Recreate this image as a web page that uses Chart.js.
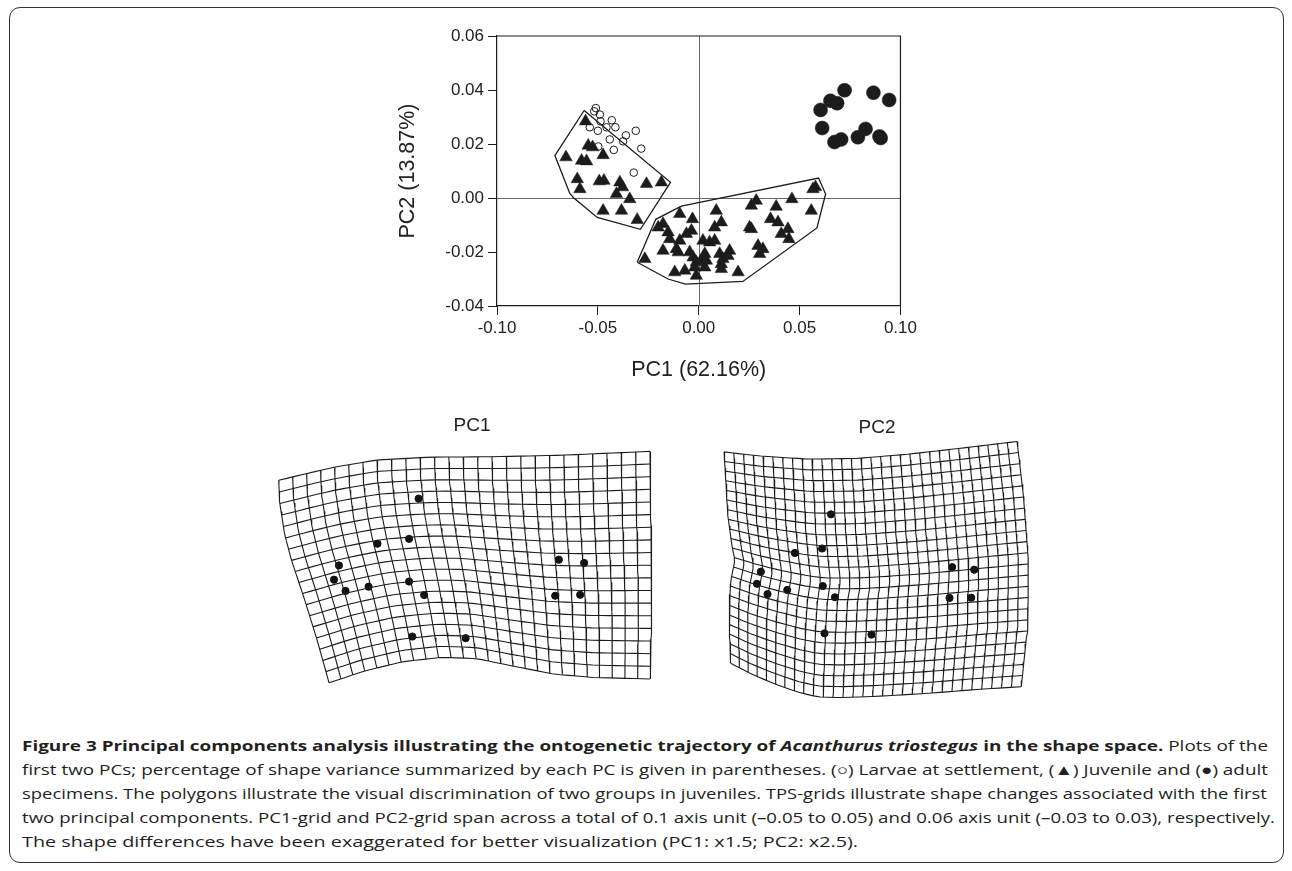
<!DOCTYPE html>
<html>
<head>
<meta charset="utf-8">
<script src="https://cdn.jsdelivr.net/npm/chart.js@4.4.1/dist/chart.umd.min.js"></script>
<style>
  html, body { margin: 0; padding: 0; background: #fff; }
  body { width: 1292px; height: 871px; position: relative; overflow: hidden; font-family: "Liberation Sans", Arial, sans-serif; }
  .frame { position: absolute; left: 9px; top: 7px; width: 1275px; height: 856px; border: 1.5px solid #333; border-radius: 11px; box-sizing: border-box; }
  #pca-wrap { position: absolute; left: 380px; top: 20px; width: 540px; height: 366px; }
  #tps-wrap { position: absolute; left: 250px; top: 430px; width: 800px; height: 280px; }
  .grid-title { position: absolute; font-size: 19px; color: #222; transform: translate(-50%, -50%); white-space: nowrap; }
  .caption { position: absolute; left: 22px; top: 733px; color: #231f20; font-family: "Open Sans", "Noto Sans", sans-serif; font-size: 15px; }
  .caption div { height: 24px; line-height: 24px; white-space: nowrap; }
  .caption span.ln { display: inline-block; transform-origin: left center; }
</style>
</head>
<body>
<div class="frame"></div>
<div id="pca-wrap"><canvas id="pca" width="540" height="366"></canvas></div>
<div id="tps-wrap"><canvas id="tps" width="800" height="280"></canvas></div>
<div class="grid-title" style="left:472px; top:425px;">PC1</div>
<div class="grid-title" style="left:877px; top:427px;">PC2</div>

<div class="caption">
  <div><span class="ln" data-end="1268"><b>Figure 3 Principal components analysis illustrating the ontogenetic trajectory of <i>Acanthurus triostegus</i> in the shape space.</b> Plots of the</span></div>
  <div><span class="ln" data-end="1268">first two PCs; percentage of shape variance summarized by each PC is given in parentheses. (○) Larvae at settlement, (▲) Juvenile and (●) adult</span></div>
  <div><span class="ln" data-end="1267">specimens. The polygons illustrate the visual discrimination of two groups in juveniles. TPS-grids illustrate shape changes associated with the first</span></div>
  <div><span class="ln" data-end="1275">two principal components. PC1-grid and PC2-grid span across a total of 0.1 axis unit (–0.05 to 0.05) and 0.06 axis unit (–0.03 to 0.03), respectively.</span></div>
  <div><span class="ln" data-end="858">The shape differences have been exaggerated for better visualization (PC1: x1.5; PC2: x2.5).</span></div>
</div>

<script>
// scatter data (PC1, PC2)
const xTicks = [-0.10, -0.05, 0.00, 0.05, 0.10];
const yTicks = [-0.04, -0.02, 0.00, 0.02, 0.04, 0.06];

const larvae = [
  [-0.0510, 0.0333], [-0.0518, 0.0321], [-0.0490, 0.0309], [-0.0487, 0.0284],
  [-0.0540, 0.0262], [-0.0500, 0.0249], [-0.0457, 0.0262], [-0.0431, 0.0288],
  [-0.0413, 0.0262], [-0.0361, 0.0232], [-0.0312, 0.0249], [-0.0441, 0.0217],
  [-0.0375, 0.0210], [-0.0498, 0.0191], [-0.0421, 0.0178], [-0.0285, 0.0183],
  [-0.0322, 0.0094]
];

const adults = [
  [0.0723, 0.0399], [0.0653, 0.0360], [0.0686, 0.0351], [0.0604, 0.0326],
  [0.0866, 0.0390], [0.0944, 0.0363], [0.0612, 0.0259], [0.0673, 0.0207],
  [0.0706, 0.0217], [0.0789, 0.0225], [0.0827, 0.0256], [0.0896, 0.0228],
  [0.0902, 0.0222]
];

const juvenilesSmall = [
  [-0.0561, 0.0284], [-0.0548, 0.0194], [-0.0526, 0.0188], [-0.0658, 0.0151],
  [-0.0581, 0.0138], [-0.0556, 0.0136], [-0.0474, 0.0159], [-0.0602, 0.0070],
  [-0.0589, 0.0033], [-0.0493, 0.0062], [-0.0470, 0.0064], [-0.0391, 0.0058],
  [-0.0378, 0.0040], [-0.0259, 0.0052], [-0.0185, 0.0058], [-0.0408, 0.0015],
  [-0.0342, -0.0004], [-0.0474, -0.0047], [-0.0383, -0.0047], [-0.0305, -0.0081]
];

const juvenilesLarge = [
  [0.0566, 0.0033], [0.0579, 0.0040], [0.0558, -0.0047], [0.0462, -0.0004],
  [0.0384, -0.0032], [0.0285, -0.0010], [0.0261, -0.0028], [0.0087, -0.0047],
  [-0.0094, -0.0059], [-0.0031, -0.0078], [0.0356, -0.0078], [0.0393, -0.0090],
  [0.0252, -0.0109], [0.0261, -0.0115], [0.0442, -0.0115], [0.0409, -0.0133],
  [0.0447, -0.0152], [0.0112, -0.0090], [0.0079, -0.0109], [-0.0036, -0.0121],
  [-0.0061, -0.0133], [-0.0177, -0.0096], [-0.0201, -0.0109], [-0.0152, -0.0127],
  [-0.0144, -0.0152], [-0.0094, -0.0158], [0.0021, -0.0158], [0.0054, -0.0164],
  [0.0079, -0.0158], [-0.0177, -0.0195], [-0.0111, -0.0189], [-0.0102, -0.0201],
  [-0.0045, -0.0201], [-0.0028, -0.0220], [0.0030, -0.0207], [0.0013, -0.0232],
  [-0.0012, -0.0238], [0.0038, -0.0232], [-0.0020, -0.0257], [0.0030, -0.0257],
  [0.0104, -0.0207], [0.0120, -0.0226], [0.0153, -0.0195], [0.0145, -0.0214],
  [0.0112, -0.0245], [0.0294, -0.0177], [0.0318, -0.0189], [0.0302, -0.0207],
  [-0.0267, -0.0226], [-0.0119, -0.0275], [-0.0069, -0.0269], [-0.0012, -0.0288],
  [0.0112, -0.0263], [0.0195, -0.0275]
];

const polygonSmall = [
  [-0.0568, 0.0324], [-0.0140, 0.0058], [-0.0289, -0.0116], [-0.0503, -0.0072],
  [-0.0619, 0.0000], [-0.0639, 0.0017], [-0.0713, 0.0157]
];

const polygonLarge = [
  [-0.0305, -0.0238], [-0.0213, -0.0079], [-0.0086, -0.0030], [0.0594, 0.0074],
  [0.0629, 0.0015], [0.0586, -0.0111], [0.0219, -0.0309], [-0.0066, -0.0319],
  [-0.0152, -0.0300]
];

// TPS grid outlines and landmarks (figure units)
const pc1Top = [[274, 477], [302, 470], [332, 463], [373, 456], [427, 453], [493, 452.5], [560, 451], [650, 447]];
const pc1Bottom = [[325, 687], [360, 675], [400, 665], [440, 660.5], [475, 662], [513, 670], [553, 678], [593, 681.5], [650, 683]];
const pc1Left = [[274, 477], [275, 500], [280, 533], [287, 560], [300, 600], [313, 643], [325, 687]];
const pc1Right = [[650, 447], [651, 520], [652, 600], [650, 683]];
const pc1Landmarks = [
  [415.7, 496], [406, 537.7], [374, 542.7], [335, 565.3], [330, 580], [341.7, 591.7],
  [365, 587.3], [406, 582], [421.3, 596], [409.3, 639], [463.3, 640.7],
  [557.7, 559.3], [583.3, 562.7], [554, 596.7], [579.3, 595.7]
];

const pc2Top = [[725, 447.5], [760, 451.7], [810, 455], [860, 454.3], [910, 450], [960, 444.3], [1021.7, 436.7]];
const pc2Bottom = [[731.7, 666.7], [753, 678], [776.7, 688.3], [800, 696.7], [820, 701.7], [843, 702.3], [880, 701], [930, 698], [980, 694], [1026, 691]];
const pc2Left = [[725, 447.5], [727, 480], [729, 515], [733, 545], [736, 560], [732, 580], [730, 610], [731.7, 666.7]];
const pc2Right = [[1021.7, 436.7], [1028, 491.7], [1033, 558], [1032.7, 625], [1026, 691]];
const pc2Landmarks = [
  [833.3, 512.3], [824.3, 547.7], [796.7, 552.3], [762.3, 571.7], [758.3, 584.3], [769, 595],
  [789, 590.7], [825, 586.7], [837.3, 598.3], [826.7, 635.7], [874.3, 637],
  [956, 567], [978.3, 569.7], [953.3, 599], [975.3, 598.7]
];

const ink = '#1c1c1c';
const toXY = arr => arr.map(p => ({x: p[0], y: p[1]}));
const closed = arr => toXY(arr.concat([arr[0]]));

//frame on top/right + zero lines
const framePlugin = {
  id: 'frame',
  beforeDatasetsDraw(chart) {
    const {ctx, chartArea: a, scales: {x, y}} = chart;
    ctx.save();
    ctx.strokeStyle = '#666';
    ctx.lineWidth = 1;
    const x0 = Math.round(x.getPixelForValue(0)) + 0.5;
    const y0 = Math.round(y.getPixelForValue(0)) + 0.5;
    ctx.beginPath();
    ctx.moveTo(x0, a.top); ctx.lineTo(x0, a.bottom);
    ctx.moveTo(a.left, y0); ctx.lineTo(a.right, y0);
    ctx.stroke();
    ctx.strokeStyle = ink;
    ctx.lineWidth = 1.2;
    ctx.beginPath();
    ctx.moveTo(a.left, a.top); ctx.lineTo(a.right, a.top); ctx.lineTo(a.right, a.bottom);
    ctx.stroke();
    ctx.restore();
  }
};

const tickFont = {family: 'Liberation Sans', size: 17};
const titleFont = {family: 'Liberation Sans', size: 21.5};

new Chart(document.getElementById('pca'), {
  type: 'scatter',
  data: {
    datasets: [
      {data: closed(polygonSmall), showLine: true, borderColor: ink, borderWidth: 1.3, pointRadius: 0, tension: 0},
      {data: closed(polygonLarge), showLine: true, borderColor: ink, borderWidth: 1.3, pointRadius: 0, tension: 0},
      {data: toXY(juvenilesSmall.concat(juvenilesLarge)), pointStyle: 'triangle', pointRadius: 7.2,
        backgroundColor: ink, borderColor: ink, borderWidth: 0.5},
      {data: toXY(larvae), pointStyle: 'circle', pointRadius: 3.8,
        backgroundColor: 'rgba(0,0,0,0)', borderColor: ink, borderWidth: 1},
      {data: toXY(adults), pointStyle: 'circle', pointRadius: 7,
        backgroundColor: ink, borderColor: ink, borderWidth: 0.5}
    ]
  },
  options: {
    responsive: false,
    animation: false,
    layout: {padding: {top: 16, right: 19, left: 0, bottom: 0}},
    plugins: {legend: {display: false}, tooltip: {enabled: false}},
    scales: {
      x: {
        type: 'linear', min: -0.1, max: 0.1,
        afterBuildTicks: s => { s.ticks = xTicks.map(v => ({value: v})); },
        afterFit: s => { s.height = 80; },
        ticks: {callback: v => v.toFixed(2), font: tickFont, color: '#222', padding: 3, maxRotation: 0},
        grid: {drawOnChartArea: false, tickLength: 9, color: ink},
        border: {color: ink, width: 1.2},
        title: {display: true, text: 'PC1 (62.16%)', font: titleFont, color: '#222', padding: {top: 0, bottom: 3}}
      },
      y: {
        type: 'linear', min: -0.04, max: 0.06,
        afterBuildTicks: s => { s.ticks = yTicks.map(v => ({value: v})); },
        afterFit: s => { s.width = 117; },
        ticks: {callback: v => v.toFixed(2), font: tickFont, color: '#222', padding: 4},
        grid: {drawOnChartArea: false, tickLength: 9, color: ink},
        border: {color: ink, width: 1.2},
        title: {display: true, text: 'PC2 (13.87%)', font: titleFont, color: '#222', padding: {top: 15, bottom: 0}}
      }
    }
  },
  plugins: [framePlugin]
});

// TPS grids: mesh built between the outline curves
function along(poly, t) {
  const lens = [0];
  for (let i = 1; i < poly.length; i++) {
    lens.push(lens[i - 1] + Math.hypot(poly[i][0] - poly[i - 1][0], poly[i][1] - poly[i - 1][1]));
  }
  const target = t * lens[lens.length - 1];
  for (let i = 1; i < poly.length; i++) {
    if (target <= lens[i] || i === poly.length - 1) {
      const f = (target - lens[i - 1]) / (lens[i] - lens[i - 1] || 1);
      return [poly[i - 1][0] + f * (poly[i][0] - poly[i - 1][0]), poly[i - 1][1] + f * (poly[i][1] - poly[i - 1][1])];
    }
  }
  return poly[poly.length - 1];
}

function meshPoint(e, u, v) {
  const T = along(e.top, u), B = along(e.bottom, u), L = along(e.left, v), R = along(e.right, v);
  const p00 = e.top[0], p10 = e.top[e.top.length - 1], p01 = e.bottom[0], p11 = e.bottom[e.bottom.length - 1];
  const c = k => (1 - v) * T[k] + v * B[k] + (1 - u) * L[k] + u * R[k]
    - ((1 - u) * (1 - v) * p00[k] + u * (1 - v) * p10[k] + (1 - u) * v * p01[k] + u * v * p11[k]);
  return {x: c(0), y: c(1)};
}

const tpsSets = [];
function addGrid(e, nu, nv) {
  const steps = 40;
  for (let i = 0; i <= nu; i++) {
    const pts = [];
    for (let s = 0; s <= steps; s++) pts.push(meshPoint(e, i / nu, s / steps));
    tpsSets.push({data: pts, showLine: true, borderColor: ink, borderWidth: 1.1, pointRadius: 0, tension: 0});
  }
  for (let j = 0; j <= nv; j++) {
    const pts = [];
    for (let s = 0; s <= steps; s++) pts.push(meshPoint(e, s / steps, j / nv));
    tpsSets.push({data: pts, showLine: true, borderColor: ink, borderWidth: 1.1, pointRadius: 0, tension: 0});
  }
}

addGrid({top: pc1Top, bottom: pc1Bottom, left: pc1Left, right: pc1Right}, 26, 18);
addGrid({top: pc2Top, bottom: pc2Bottom, left: pc2Left, right: pc2Right}, 30, 22);
tpsSets.push({data: toXY(pc1Landmarks), pointRadius: 3.6, backgroundColor: '#111', borderColor: '#111'});
tpsSets.push({data: toXY(pc2Landmarks), pointRadius: 3.6, backgroundColor: '#111', borderColor: '#111'});

new Chart(document.getElementById('tps'), {
  type: 'scatter',
  data: {datasets: tpsSets},
  options: {
    responsive: false,
    animation: false,
    layout: {padding: 0},
    plugins: {legend: {display: false}, tooltip: {enabled: false}},
    scales: {
      x: {type: 'linear', display: false, min: 250, max: 1050},
      y: {type: 'linear', display: false, min: 430, max: 710, reverse: true}
    }
  }
});

// stretch caption lines to the widths in the figure
document.querySelectorAll('.caption span.ln').forEach(el => {
  const w = el.getBoundingClientRect().width;
  const target = +el.dataset.end - 22;
  el.style.transform = 'scaleX(' + (target / w).toFixed(4) + ')';
});
</script>
</body>
</html>
